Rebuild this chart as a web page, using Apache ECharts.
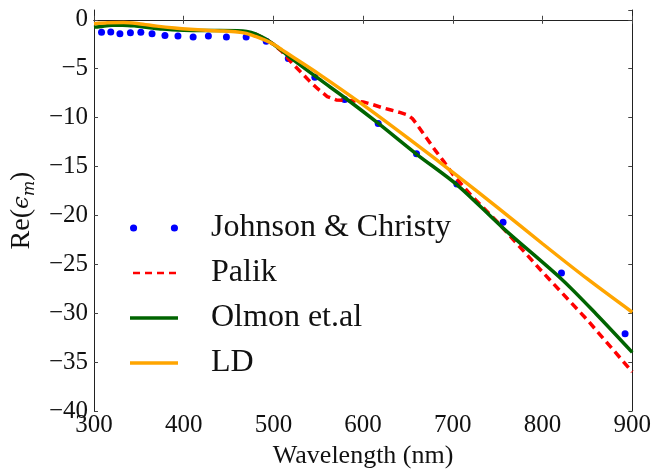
<!DOCTYPE html>
<html>
<head>
<meta charset="utf-8">
<script src="https://cdn.jsdelivr.net/npm/echarts@6/dist/echarts.min.js"></script>
<style>html,body{margin:0;padding:0;background:#fff}#c{width:654px;height:475px}</style>
</head>
<body>
<div id="c"></div>
<script>
// ---- data ----
const jcWavelength = [299.5,308.4,318.7,328.9,340.6,352.2,364.7,379.1,393.6,410.5,427.5,447.6,469.6,492.0,516.6,546.2,579.4,616.8,659.5,704.5,756.0,821.1,892.0];
const jcEps        = [-1.27,-1.27,-1.25,-1.43,-1.33,-1.27,-1.43,-1.60,-1.67,-1.77,-1.67,-1.77,-1.75,-2.20,-3.95,-5.87,-8.15,-10.6,-13.7,-16.8,-20.7,-25.9,-32.1];

const palikWavelength = [480,490,500,510,520,530,540,550,560,570,580,590,600,610,620,630,640,650,655,660,670,680,690,700,720,750,800,850,900];
const palikEps        = [-1.45,-1.9,-2.5,-3.3,-4.35,-5.3,-6.25,-7.1,-7.85,-8.2,-8.25,-8.3,-8.4,-8.65,-8.95,-9.2,-9.45,-9.75,-10.1,-10.7,-12.0,-13.3,-14.5,-15.8,-17.9,-20.7,-25.8,-30.7,-36.0];

const olmonWavelength = [300,310,320,332,345,360,376,400,420,440,460,470,480,490,500,510,520,550,583,617,659,705,756,821,860,900];
const olmonEps        = [-0.75,-0.65,-0.57,-0.55,-0.62,-0.78,-0.95,-1.07,-1.10,-1.10,-1.12,-1.20,-1.45,-1.90,-2.50,-3.20,-3.95,-6.0,-8.2,-10.6,-13.7,-16.9,-21.3,-26.5,-30.1,-34.0];

const ldWavelength = [300,315,333,350,370,390,407,425,444,460,470,480,490,500,510,520,550,600,650,700,750,800,850,900];
const ldEps        = [-0.40,-0.30,-0.27,-0.40,-0.65,-0.85,-0.98,-1.08,-1.15,-1.25,-1.40,-1.70,-2.05,-2.50,-3.10,-3.70,-5.5,-8.7,-12.1,-15.6,-19.2,-22.9,-26.5,-29.9];

const seriesNames = ['Johnson & Christy','Palik','Olmon et.al','LD'];
const xTicks = {min:300, max:900, step:100};
const yTicks = {min:-40, max:1, step:5};

const zip = (a,b) => a.map((v,i)=>[v,b[i]]);
const FONT = 'Liberation Serif';
const minus = v => String(v).replace('-', '\u2212');

// legend icons (48 x 8 box)
const ICON_DOTS  = 'path://M0.5,4a3.5,3.5 0 1,0 7,0a3.5,3.5 0 1,0 -7,0Z M40.5,4a3.5,3.5 0 1,0 7,0a3.5,3.5 0 1,0 -7,0Z';
const ICON_SOLID = 'path://M0,2.2H48V5.8H0Z';
const ICON_DASH  = 'path://M0,0H0.01V0.01H0Z M3,2.8H10V5.2H3Z M15,2.8H22V5.2H15Z M27,2.8H34V5.2H27Z M39,2.8H46V5.2H39Z M47.99,7.99H48V8H47.99Z';

const chart = echarts.init(document.getElementById('c'), null, {renderer:'canvas'});
const axisCommon = {
  axisLine:{show:true, lineStyle:{color:'#222', width:1}},
  axisTick:{show:true, inside:true, length:4, lineStyle:{color:'#444', width:1}},
  splitLine:{show:false}
};
chart.setOption({
  animation:false,
  grid:{left:93, right:20, top:10, bottom:64},
  xAxis:[
    Object.assign({type:'value', min:xTicks.min, max:xTicks.max, interval:xTicks.step, position:'bottom',
      name:'Wavelength (nm)', nameLocation:'middle', nameGap:32,
      nameTextStyle:{fontFamily:FONT, fontSize:26, color:'#111'},
      axisLabel:{fontFamily:FONT, fontSize:25, color:'#111', margin:2}}, axisCommon),
    Object.assign({type:'value', min:xTicks.min, max:xTicks.max, interval:xTicks.step, position:'top',
      axisLabel:{show:false}}, axisCommon)
  ],
  yAxis:[
    Object.assign({type:'value', min:yTicks.min, max:yTicks.max, interval:yTicks.step, position:'left',
      name:'{n|Re(}{e|\u03F5}{s|m}{n|)}', nameLocation:'middle', nameGap:53,
      nameTextStyle:{fontFamily:FONT, fontSize:28, color:'#111',
        rich:{
          n:{fontFamily:FONT, fontSize:28, color:'#111', lineHeight:32},
          e:{fontFamily:'DejaVu Serif', fontStyle:'italic', fontSize:23, color:'#111', lineHeight:32},
          s:{fontFamily:'DejaVu Serif', fontStyle:'italic', fontSize:16, color:'#111', lineHeight:22, verticalAlign:'bottom'}
        }},
      axisLabel:{fontFamily:FONT, fontSize:25, color:'#111', margin:6, showMaxLabel:false,
        formatter: v => v > 0 ? '' : minus(v)}}, axisCommon),
    Object.assign({type:'value', min:yTicks.min, max:yTicks.max, interval:yTicks.step, position:'right',
      axisLabel:{show:false}}, axisCommon)
  ],
  legend:{
    orient:'vertical', left:125, top:206, itemGap:11, itemWidth:48, itemHeight:8,
    textStyle:{fontFamily:FONT, fontSize:32, color:'#111', lineHeight:34, padding:[0,0,0,28]},
    data:[
      {name:seriesNames[0], icon:ICON_DOTS},
      {name:seriesNames[1], icon:ICON_DASH},
      {name:seriesNames[2], icon:ICON_SOLID},
      {name:seriesNames[3], icon:ICON_SOLID}
    ]
  },
  series:[
    {name:seriesNames[0], type:'scatter', data:zip(jcWavelength,jcEps), symbol:'circle', symbolSize:7,
      itemStyle:{color:'#0000ff', opacity:1}, z:2},
    {name:seriesNames[1], type:'line', data:zip(palikWavelength,palikEps), showSymbol:false, symbol:'none',
      lineStyle:{color:'#ff0000', width:3.5, type:[8,5]}, itemStyle:{color:'#ff0000'}, z:3},
    {name:seriesNames[2], type:'line', data:zip(olmonWavelength,olmonEps), showSymbol:false, symbol:'none', smooth:0.3,
      lineStyle:{color:'#006400', width:3.5}, itemStyle:{color:'#006400'}, z:4},
    {name:seriesNames[3], type:'line', data:zip(ldWavelength,ldEps), showSymbol:false, symbol:'none', smooth:0.3,
      lineStyle:{color:'#ffa500', width:3.5}, itemStyle:{color:'#ffa500'}, z:5}
  ]
});
</script>
</body>
</html>
